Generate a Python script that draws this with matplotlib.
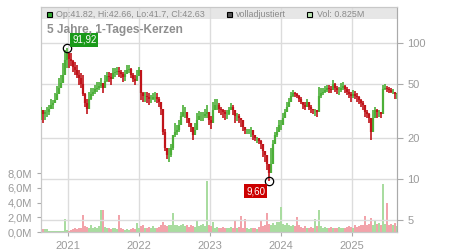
import numpy as np
import pandas as pd
import matplotlib
matplotlib.use("Agg")
import matplotlib.pyplot as plt
from matplotlib.patches import Rectangle

plt.rcParams['font.family'] = ['Liberation Sans', 'DejaVu Sans']

# Candles, roughly every 10 days
close = [32, 30, 31, 31, 33, 35, 36, 38, 42, 47, 51, 58, 75, 84, 76, 74, 67, 63, 58, 55,
         50, 42, 36, 33, 39, 42, 44, 46, 47, 48, 51, 47, 53, 57, 56, 54, 60, 61, 62, 61,
         59, 56, 59, 63, 64, 58, 54, 53, 57, 63, 43, 41, 41, 40, 39, 39, 40, 40, 39, 37,
         33, 22, 17, 15, 15, 17, 21, 22, 23, 25, 29, 31, 31, 28, 26, 24, 21, 23, 27, 29,
         29, 29, 30, 31, 27, 26, 32, 35, 35, 33, 32, 31, 30, 30, 32, 34, 32, 29, 29, 28,
         27, 24, 23, 23, 23, 23, 21, 20, 20, 19, 18, 16, 15, 13, 11, 13, 18, 21, 22, 25,
         25, 28, 31, 34, 37, 41, 43, 42, 41, 39, 37, 35, 34, 37, 34, 33, 32, 32, 31, 41,
         43, 44, 45, 47, 46, 45, 50, 47, 45, 45, 47, 48, 46, 44, 42, 41, 42, 41, 40, 38,
         36, 35, 31, 30, 28, 22, 28, 32, 31, 31, 30, 46, 47, 46, 45, 44, 44, 42, 42.63]

high = [34, 31, 32, 34, 35, 39, 38, 43, 48, 55, 58, 71, 89, 91.92, 82, 85, 75, 72, 69, 63,
        60, 58, 43, 39, 44, 47, 47, 49, 52, 52, 55, 51, 58, 61, 61, 60, 65.5, 65.5, 66.5, 66.5,
        63, 61, 63, 69, 69, 65.5, 60, 58, 63, 67, 47.5, 43.5, 43.5, 43.5, 43, 41.5, 43, 43.5, 43, 40,
        37, 32, 23.5, 17, 17, 18, 21, 26, 25, 27, 31, 35, 34, 31, 28, 26, 23.5, 26, 30.5, 31.5,
        31, 31, 33, 35, 30.5, 29, 37, 39, 39, 36, 34, 33, 32, 32, 34, 36, 35, 31, 30.5, 30,
        28, 26, 24, 23.5, 23.5, 24, 22, 21, 20.5, 20, 19.5, 17, 16, 14.3, 12.2, 17, 19.5, 22, 24, 27,
        27, 30.5, 33, 37, 39.5, 43.5, 45, 43.5, 43, 41.5, 40, 37, 37, 39, 36, 35, 33, 33, 32, 47.5,
        47, 47, 48, 49, 49, 48, 53.5, 51, 48, 47.5, 51, 51.5, 49, 47.5, 46, 43.5, 45, 44.5, 43, 41,
        39, 37.5, 34, 32, 30.5, 26, 32, 34, 33, 32, 31, 49, 50, 48, 47.5, 47, 46, 43.5, 43]

low = [27, 26, 27, 28.5, 29.5, 33, 33, 36.5, 42, 45, 49, 57, 68, 66, 65, 68, 61, 58, 55, 49,
       47, 41, 34, 30, 35, 38, 41, 42.5, 43.5, 45, 47, 43, 49, 51.5, 51.5, 49, 55, 56, 58, 56,
       55, 51.5, 53, 60, 60, 55, 51.5, 49, 53, 60, 38, 37, 37, 36, 35, 36, 38, 37, 36, 34,
       29.5, 21, 16, 14, 13.3, 14.5, 16.3, 20.5, 21, 22, 25, 28.5, 28, 26, 24, 22, 19.5, 21, 25, 27,
       26.5, 26.5, 28, 28, 25, 23.5, 30.5, 33, 32, 30.5, 29.5, 28, 27, 27.5, 29.5, 32, 29.5, 26, 26.5, 26,
       24, 22.5, 21.5, 21.5, 21.5, 20.5, 19.5, 19, 18.5, 18, 16.5, 14.5, 13.3, 11.6, 9.60, 11.6, 15.5, 19, 20.5, 22.5,
       23, 26, 28.5, 32, 34, 38, 40, 40, 39.5, 37, 35.5, 33, 32, 34, 32, 30.5, 30, 29, 28.5, 36,
       39.5, 41.5, 43, 43.5, 43, 43, 46.5, 43.5, 42, 41.5, 43.5, 45, 43, 41.5, 39.5, 37, 39.5, 39, 37, 35.5,
       34, 32, 28.5, 28, 26, 19.5, 24, 29.5, 28, 28.5, 28, 43, 45, 43.5, 43, 43, 42, 39, 39]

# Volume in millions
volume = [1.1, 0.4, 0.4, 0.4, 0.2, 0.15, 0.15, 0.2, 0.15, 0.2, 0.15, 0.2, 1.75, 0.3, 0.2, 0.3, 0.4, 0.5, 0.4, 0.6,
          0.5, 2.3, 0.8, 0.7, 0.6, 1.0, 0.6, 0.7, 0.5, 0.8, 3.0, 3.0, 0.7, 0.5, 0.6, 0.4, 0.6, 0.5, 0.4, 2.3,
          0.5, 0.4, 0.3, 0.4, 0.3, 0.4, 0.5, 0.4, 1.2, 0.5, 0.8, 1.0, 0.6, 0.5, 0.7, 0.6, 0.8, 0.6, 0.5, 0.7,
          0.9, 1.3, 1.0, 0.8, 1.0, 0.9, 2.6, 0.9, 1.0, 0.8, 0.9, 1.1, 0.8, 1.0, 0.7, 0.9, 0.8, 0.7, 1.7, 0.8,
          0.9, 1.1, 0.8, 7.0, 1.0, 0.8, 1.4, 0.6, 0.7, 0.5, 0.6, 0.7, 0.5, 0.6, 0.5, 0.7, 0.5, 1.5, 0.6, 0.7,
          2.2, 0.6, 1.8, 0.5, 0.4, 0.5, 0.6, 0.5, 0.4, 0.7, 1.6, 0.8, 0.9, 2.6, 1.1, 1.0, 1.2, 1.0, 1.4, 1.3,
          3.4, 1.1, 1.0, 1.2, 0.9, 0.8, 1.0, 0.8, 2.0, 0.9, 0.7, 0.6, 0.8, 0.6, 0.5, 0.7, 0.6, 1.8, 0.8, 3.0,
          0.8, 0.6, 0.7, 0.5, 0.6, 0.7, 0.5, 0.6, 0.5, 0.7, 0.6, 0.5, 0.6, 0.7, 0.8, 0.7, 0.6, 0.9, 0.7, 0.8,
          0.9, 1.0, 2.2, 0.9, 1.1, 1.9, 1.0, 1.5, 1.1, 1.2, 1.0, 6.5, 1.1, 3.9, 1.0, 1.1, 0.9, 1.2, 0.8]

price_ticks = [5, 10, 20, 50, 100]
vol_ticks = [0, 2, 4, 6, 8]
years = [2021, 2022, 2023, 2024, 2025]

dates = pd.date_range("2020-08-15", "2025-08-20", periods=len(close))
close = np.array(close, dtype=float)
high = np.array(high, dtype=float)
low = np.array(low, dtype=float)
opens = np.r_[close[0], close[:-1]]
up = close >= opens
peak_idx = int(np.argmax(high))
trough_idx = int(np.argmin(low))

GREEN = "#4caf38"
RED = "#c0141a"
GRID = "#dcdcdc"
TXT = "#9a9a9a"

fig = plt.figure(figsize=(4.5, 2.5), dpi=100)
ax = fig.add_axes([41 / 450, 18 / 250, 356 / 450, 225 / 250])

# volume
vcols = np.where(up, "#a9dca0", "#f2a3aa")
ax.bar(dates, volume, width=8, color=vcols, linewidth=0, zorder=2)
ax.set_ylim(0, 30.6)
ax.set_yticks(vol_ticks)
ax.set_yticklabels([f"{v:.1f}M".replace(".", ",") for v in vol_ticks])
ax.set_xlim(dates[0], dates[-1])
ax.set_xticks([pd.Timestamp(f"{y}-01-01") for y in years])
ax.set_xticklabels([str(y) for y in years])
ax.grid(axis="x", color=GRID, lw=1, zorder=1)
ax.tick_params(colors="#aaaaaa", labelcolor=TXT, labelsize=8, length=3, width=0.8)
for s in ax.spines.values():
    s.set_color("#c8c8c8")

# header band
ax.add_patch(Rectangle((0, 1 - 12 / 225), 1, 12 / 225, transform=ax.transAxes,
                       facecolor="#e6e6e6", edgecolor="none", zorder=0.5))

# price
ax2 = ax.twinx()
ax2.set_yscale("log")
ax2.set_ylim(4.08, 184)
ax2.set_yticks(price_ticks)
ax2.set_yticklabels([str(t) for t in price_ticks])
ax2.yaxis.set_minor_locator(matplotlib.ticker.NullLocator())
ax2.grid(axis="y", color=GRID, lw=1, zorder=1)
ax2.tick_params(colors="#aaaaaa", labelcolor=TXT, labelsize=8, length=4, width=0.8)
for s in ax2.spines.values():
    s.set_color("#c8c8c8")
ax2.spines["right"].set_color("#aaaaaa")

body_lo = np.minimum(opens, close)
body_hi = np.maximum(opens, close)
for mask, col in [(up, GREEN), (~up, RED)]:
    ax2.vlines(dates[mask], np.minimum(low, body_lo)[mask], np.maximum(high, body_hi)[mask],
               color=col, lw=1.2, zorder=3)
    ax2.vlines(dates[mask], body_lo[mask], body_hi[mask], color=col, lw=1.6, zorder=3)

ax2.plot([dates[peak_idx], dates[trough_idx]], [high[peak_idx], low[trough_idx]], "o", ms=6,
         mfc="none", mec="black", mew=0.9, zorder=5)
ax2.annotate(f"{high[peak_idx]:.2f}".replace(".", ","), (dates[peak_idx], high[peak_idx]),
             xytext=(12.5, 6), textcoords="offset points", ha="center", va="center",
             fontsize=7, color="white", zorder=6,
             bbox=dict(boxstyle="square,pad=0.2", fc="#1a9a1a", ec="none"))
ax2.annotate(f"{low[trough_idx]:.2f}".replace(".", ","), (dates[trough_idx], low[trough_idx]),
             xytext=(-9.5, -7), textcoords="offset points", ha="center", va="center",
             fontsize=7, color="white", zorder=6,
             bbox=dict(boxstyle="square,pad=0.2", fc="#cc0000", ec="none"))

# header legend and title
def legend_box(x, color):
    fig.add_artist(Rectangle((x / 450, 233 / 250), 5 / 450, 5 / 250, transform=fig.transFigure,
                             facecolor=color, edgecolor="black", lw=0.8))

legend_box(47, "#33aa33")
fig.text(56 / 450, 235.5 / 250, "Op:41.82, Hi:42.66, Lo:41.7, Cl:42.63", fontsize=6.4,
         color="#8a8a8a", va="center")
legend_box(227, "#555555")
fig.text(236 / 450, 235.5 / 250, "volladjustiert", fontsize=6.4, color="#8a8a8a", va="center")
legend_box(307, "#bde8b5")
fig.text(317 / 450, 235.5 / 250, "Vol: 0.825M", fontsize=6.4, color="#8a8a8a", va="center")
fig.text(47 / 450, 220.5 / 250, "5 Jahre, 1-Tages-Kerzen", fontsize=8.6, fontweight="bold",
         color="#8f8f8f", va="center")

fig.savefig("out.png", dpi=100)
